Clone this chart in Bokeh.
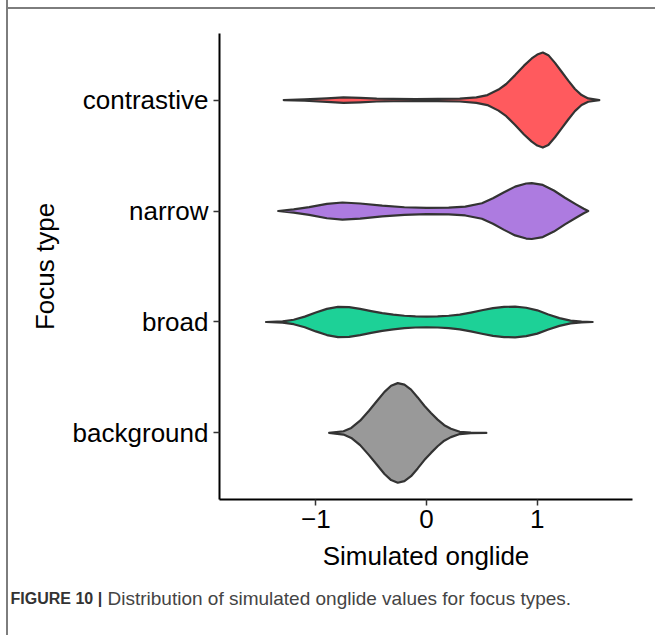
from bokeh.plotting import figure
from bokeh.models import Range1d, FixedTicker, Label, Spacer
from bokeh.layouts import row, column
from bokeh.embed import file_html
from bokeh.resources import INLINE

# ---- data ----
categories = ["background", "broad", "narrow", "contrastive"]
fill_colors = ["#999999", "#1DD197", "#AD7BE0", "#FF5A5E"]
x_ticks = [-1, 0, 1]
x_tick_labels = ["\u22121", "0", "1"]
caption_bold = "FIGURE 10 |"
caption_text = "Distribution of simulated onglide values for focus types."

# density half-widths (in category units) at onglide values
background_x = [-0.88, -0.75, -0.68, -0.60, -0.52, -0.45, -0.38, -0.32, -0.26, -0.20,
                -0.14, -0.08, -0.02, 0.04, 0.10, 0.16, 0.22, 0.30, 0.40, 0.54]
background_w = [0.0, 0.015, 0.045, 0.11, 0.20, 0.285, 0.37, 0.425, 0.449, 0.435,
                0.39, 0.32, 0.245, 0.18, 0.12, 0.07, 0.038, 0.01, 0.003, 0.0]

broad_x = [-1.45, -1.30, -1.20, -1.10, -1.00, -0.90, -0.80, -0.70, -0.60, -0.50,
           -0.40, -0.30, -0.20, -0.10, 0.00, 0.10, 0.20, 0.30, 0.40, 0.50,
           0.60, 0.70, 0.80, 0.90, 1.00, 1.10, 1.20, 1.30, 1.40, 1.50]
broad_w = [0.0, 0.006, 0.02, 0.048, 0.085, 0.118, 0.136, 0.134, 0.118, 0.098,
           0.08, 0.066, 0.056, 0.05, 0.048, 0.05, 0.056, 0.066, 0.085, 0.106,
           0.125, 0.136, 0.138, 0.128, 0.105, 0.068, 0.035, 0.012, 0.003, 0.0]

narrow_x = [-1.34, -1.20, -1.06, -0.90, -0.76, -0.60, -0.40, -0.20, 0.00, 0.20,
            0.35, 0.50, 0.60, 0.70, 0.80, 0.90, 0.95, 1.05, 1.15, 1.25,
            1.35, 1.42, 1.46]
narrow_w = [0.0, 0.015, 0.035, 0.065, 0.077, 0.068, 0.048, 0.034, 0.028, 0.03,
            0.04, 0.07, 0.115, 0.17, 0.22, 0.248, 0.252, 0.235, 0.185, 0.12,
            0.06, 0.02, 0.0]

contrastive_x = [-1.29, -1.10, -0.90, -0.75, -0.60, -0.45, -0.30, -0.10, 0.10, 0.30,
                 0.45, 0.55, 0.65, 0.72, 0.80, 0.88, 0.95, 1.00, 1.05, 1.10,
                 1.16, 1.22, 1.28, 1.34, 1.40, 1.46, 1.56]
contrastive_w = [0.0, 0.006, 0.016, 0.025, 0.02, 0.013, 0.01, 0.009, 0.01, 0.013,
                 0.025, 0.045, 0.095, 0.145, 0.225, 0.31, 0.375, 0.41, 0.428, 0.405,
                 0.335, 0.255, 0.175, 0.10, 0.045, 0.015, 0.0]

series_x = [background_x, broad_x, narrow_x, contrastive_x]
series_w = [background_w, broad_w, narrow_w, contrastive_w]

FONT = "Liberation Sans"
BORDER = "#7d7d7d"

# layout geometry (px)
PAD_LEFT, LINE_W, PAD_TOP, LINE_H = 6, 2, 7, 2
INNER_W = 655 - PAD_LEFT - LINE_W          # 647
CHART_H = 571
CAP_H = 635 - PAD_TOP - LINE_H - CHART_H   # 55

p = figure(width=INNER_W, height=CHART_H, output_backend="svg", toolbar_location=None,
           x_range=Range1d(-1.87, 1.86), y_range=Range1d(0.4, 4.6),
           min_border_left=211, min_border_right=23, min_border_top=24,
           min_border_bottom=81)
p.frame_align = False
p.background_fill_color = "white"
p.border_fill_color = "white"
p.outline_line_color = None
p.xgrid.visible = False
p.ygrid.visible = False

for i, (xv, wv, col) in enumerate(zip(series_x, series_w, fill_colors)):
    pos = i + 1
    xs = list(xv) + list(xv[::-1])
    ys = [pos + w for w in wv] + [pos - w for w in wv[::-1]]
    p.patch(xs, ys, fill_color=col, line_color="#333333", line_width=2.2,
            line_join="round")

# axes
for ax in (p.xaxis[0], p.yaxis[0]):
    ax.axis_line_color = "black"
    ax.axis_line_width = 2
    ax.major_tick_line_color = "#333333"
    ax.major_tick_line_width = 1.5
    ax.major_tick_in = 0
    ax.major_tick_out = 6
    ax.minor_tick_line_color = None
    ax.major_label_text_font = FONT
    ax.major_label_text_font_size = "26px"
    ax.major_label_text_color = "black"
    ax.axis_label_text_font = FONT
    ax.axis_label_text_font_size = "26px"
    ax.axis_label_text_font_style = "normal"
    ax.axis_label_text_color = "black"

p.xaxis.ticker = FixedTicker(ticks=x_ticks)
p.xaxis.major_label_overrides = {t: s for t, s in zip(x_ticks, x_tick_labels)}
p.xaxis.axis_label = "Simulated onglide"
p.xaxis.major_label_standoff = 4
p.xaxis.axis_label_standoff = 10

p.yaxis.ticker = FixedTicker(ticks=[i + 1 for i in range(len(categories))])
p.yaxis.major_label_overrides = {i + 1: c for i, c in enumerate(categories)}
p.yaxis.axis_label = "Focus type"
p.yaxis.major_label_standoff = 5
p.yaxis.axis_label_standoff = 10

# caption strip (its frame covers the whole strip; coordinates are pixels)
cap = figure(width=INNER_W, height=CAP_H, output_backend="svg", toolbar_location=None,
             x_range=Range1d(0, INNER_W), y_range=Range1d(0, CAP_H),
             x_axis_type=None, y_axis_type=None, min_border=0)
cap.frame_align = False
cap.outline_line_color = None
cap.background_fill_color = "white"
cap.border_fill_color = "white"
cap.add_layout(Label(x=2, y=CAP_H - 18, text=caption_bold, text_font=FONT,
                     text_font_style="bold", text_font_size="16px",
                     text_color="#333333", text_baseline="middle"))
cap.add_layout(Label(x=99, y=CAP_H - 18, text=caption_text, text_font=FONT,
                     text_font_size="19px", text_color="#444444",
                     text_baseline="middle"))

layout = row(
    Spacer(width=PAD_LEFT, height=635),
    Spacer(width=LINE_W, height=635, styles={"background-color": BORDER}),
    column(
        Spacer(width=INNER_W, height=PAD_TOP),
        Spacer(width=INNER_W, height=LINE_H, styles={"background-color": BORDER}),
        p,
        cap,
    ),
)

open("out.html", "w").write(file_html(layout, INLINE))
